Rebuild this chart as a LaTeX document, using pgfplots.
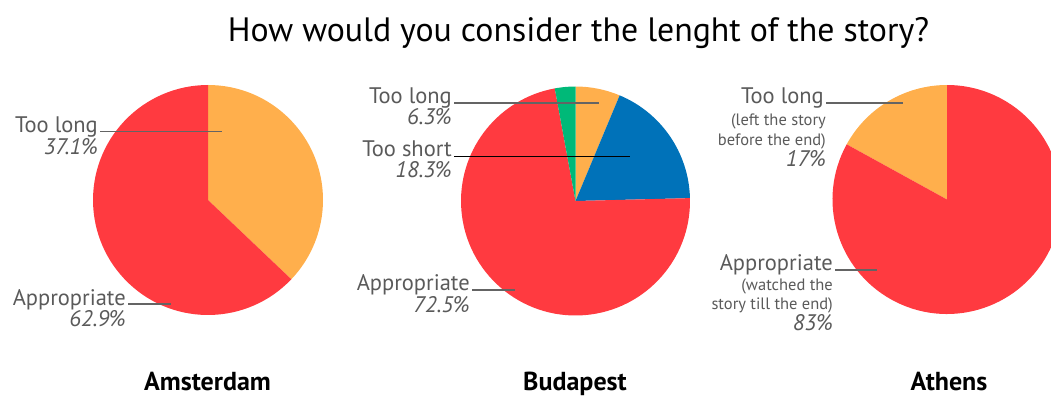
\documentclass[border=0pt]{standalone}
\usepackage{fontspec}
\setmainfont{PT Sans}
\usepackage{pgfplots}
\pgfplotsset{compat=1.18}
\definecolor{pRed}{RGB}{255,58,64}
\definecolor{pOrange}{RGB}{255,175,76}
\definecolor{pBlue}{RGB}{0,114,185}
\definecolor{pGreen}{RGB}{0,185,120}
\definecolor{txt}{RGB}{90,90,90}
\definecolor{lead}{RGB}{100,100,100}
% wedge: colour, from percent, to percent (clockwise from 12 o'clock for increasing percent)
\newcommand{\pieWedge}[4]{%
  \fill[#1] (axis cs:0,0) -- (axis cs:{cos(90-3.6*(#2))},{sin(90-3.6*(#2))})
    arc[start angle={90-3.6*(#2)}, end angle={90-3.6*(#3)}, radius=#4] -- cycle;}
\pgfplotsset{pie/.style={anchor=origin, xmin=-1, xmax=1, ymin=-1, ymax=1, hide axis, clip=false}}
\newcommand{\lab}{\fontsize{22.5}{25}\selectfont}
\newcommand{\sub}{\fontsize{16.5}{19}\selectfont}
\begin{document}
\begin{tikzpicture}[x=1pt,y=1pt]
\useasboundingbox (0,0) rectangle (1051,397);
\clip (0,0) rectangle (1051,397);
% Amsterdam
\begin{axis}[pie, at={(208pt,197pt)}, x=115pt, y=115pt]
  \pieWedge{pOrange}{0}{37.1}{115pt}
  \pieWedge{pRed}{37.1}{100}{115pt}
\end{axis}
% Budapest
\begin{axis}[pie, at={(575.5pt,196pt)}, x=114.5pt, y=114.5pt]
  \pieWedge{pOrange}{0}{6.3}{114.5pt}
  \pieWedge{pBlue}{6.3}{24.6}{114.5pt}
  \pieWedge{pRed}{24.6}{97.1}{114.5pt}
  \pieWedge{pGreen}{97.1}{100}{114.5pt}
\end{axis}
% Athens
\begin{axis}[pie, at={(947pt,197.5pt)}, x=114.5pt, y=114.5pt]
  \pieWedge{pOrange}{0}{-17}{114.5pt}
  \pieWedge{pRed}{-17}{-100}{114.5pt}
\end{axis}
% title
\node[anchor=base, inner sep=0] at (578.5,355) {\fontsize{33.8}{38}\selectfont How would you consider the lenght of the story?};
% city names
\node[anchor=base, inner sep=0] at (207.5,7) {\fontsize{26}{29}\selectfont\bfseries Amsterdam};
\node[anchor=base, inner sep=0] at (575,7) {\fontsize{26}{29}\selectfont\bfseries Budapest};
\node[anchor=base, inner sep=0] at (949,7) {\fontsize{26}{29}\selectfont\bfseries Athens};
% leader lines
\draw[lead, line width=1.4pt] (100,265.3) -- (222,265.3);
\draw[lead, line width=1.4pt] (128,93) -- (171,93);
\draw[lead, line width=1.4pt] (454,294) -- (599,294);
\draw[black, line width=1pt] (454,241) -- (630,241);
\draw[lead, line width=1.4pt] (472,107) -- (515,107);
\draw[lead, line width=1.4pt] (826,294) -- (903,294);
\draw[lead, line width=1.4pt] (835,127) -- (877,127);
% labels Amsterdam
\begin{scope}[every node/.style={anchor=base east, inner sep=0, text=txt}]
\node at (98,265) {\lab Too long};
\node at (98,243) {\lab\itshape 37.1\%};
\node at (126,92) {\lab Appropriate};
\node at (126,71) {\lab\itshape 62.9\%};
% Budapest
\node at (452,294) {\lab Too long};
\node at (452,272.5) {\lab\itshape 6.3\%};
\node at (452,241) {\lab Too short};
\node at (452,219.5) {\lab\itshape 18.3\%};
\node at (470,107) {\lab Appropriate};
\node at (470,85) {\lab\itshape 72.5\%};
% Athens
\node at (824,294) {\lab Too long};
\node at (826,272) {\sub (left the story};
\node at (826,252) {\sub before the end)};
\node at (826,230.5) {\lab\itshape 17\%};
\node at (833,127) {\lab Appropriate};
\node at (833,107) {\sub (watched the};
\node at (833,88) {\sub story till the end)};
\node at (833,66.5) {\lab\itshape 83\%};
\end{scope}
\end{tikzpicture}
\end{document}
